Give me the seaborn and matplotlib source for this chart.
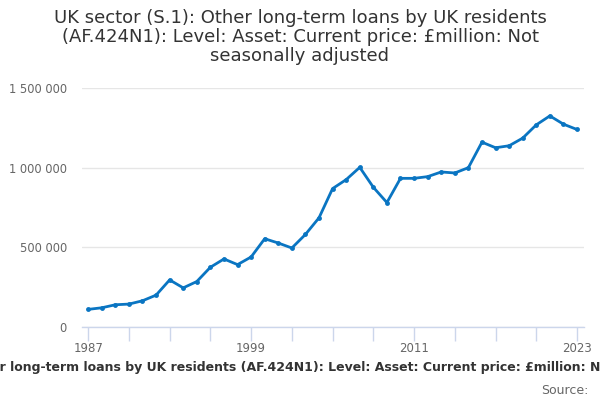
"""
Line chart: UK sector (S.1) other long-term loans by UK residents, 1987-2023.
"""
import numpy as np
import pandas as pd
import matplotlib
matplotlib.use("Agg")
import matplotlib.pyplot as plt
from matplotlib.ticker import FuncFormatter
import seaborn as sns

years = list(range(1987, 2024))
values = [
    110600, 120600, 139600, 143750, 164600, 200000, 295600, 245600, 285400, 375000,
    427000, 391600, 439600, 554000, 527000, 495800, 581000, 685400, 868750, 925000,
    1002000, 877000, 781000, 933000, 933000, 943750, 973000, 966700, 1000000, 1160000,
    1125000, 1137500, 1185400, 1268750, 1325000, 1273000, 1239600,
]
year_labels = [1987, 1999, 2011, 2023]
y_ticks = [0, 500000, 1000000, 1500000]

title = ("UK sector (S.1): Other long-term loans by UK residents\n"
         "(AF.424N1): Level: Asset: Current price: £million: Not\n"
         "seasonally adjusted")
caption = ("UK sector (S.1): Other long-term loans by UK residents (AF.424N1): "
           "Level: Asset: Current price: £million: Not seasonally adjusted")

sns.set_theme(style="white")
plt.rcParams['font.family'] = ['DejaVu Sans']

df = pd.DataFrame({'year': years, 'value': values})

fig = plt.figure(figsize=(6, 4), dpi=100)
ax = fig.add_axes([0.137, 0.1825, 0.836, 0.5975])

sns.lineplot(data=df, x='year', y='value', ax=ax, color='#0a75c2', linewidth=2,
             marker='o', markersize=3.5, markeredgewidth=0)

ax.set_xlim(1986.56, 2023.5)
ax.set_ylim(0, 1500000)
ax.set_yticks(y_ticks)
ax.yaxis.set_major_formatter(FuncFormatter(lambda v, p: f"{int(v):,}".replace(",", " ")))
ax.grid(axis='y', color='#e6e6e6', linewidth=1)
ax.set_axisbelow(True)

ax.set_xticks(year_labels)
ax.set_xticks([y for y in range(1987, 2024, 3)], minor=True)
ax.tick_params(axis='x', which='both', direction='out', length=10, width=1,
               color='#ccd6eb', labelsize=8.5, labelcolor='#666666', pad=1, bottom=True)
ax.tick_params(axis='y', length=0, labelsize=8.3, labelcolor='#666666', pad=11)

for side in ['top', 'right', 'left']:
    ax.spines[side].set_visible(False)
ax.spines['bottom'].set_color('#ccd6eb')
ax.spines['bottom'].set_linewidth(1)

ax.set_xlabel('')
ax.set_ylabel('')

fig.text(0.5, 0.978, title, ha='center', va='top', fontsize=13, color='#333333',
         linespacing=1.08)
fig.text(0.507, 0.082, caption, ha='center', va='center', fontsize=9,
         fontweight='bold', color='#333333')
fig.text(0.98, 0.025, "Source:", ha='right', va='center', fontsize=9, color='#666666')

fig.savefig('out.png', dpi=100)
